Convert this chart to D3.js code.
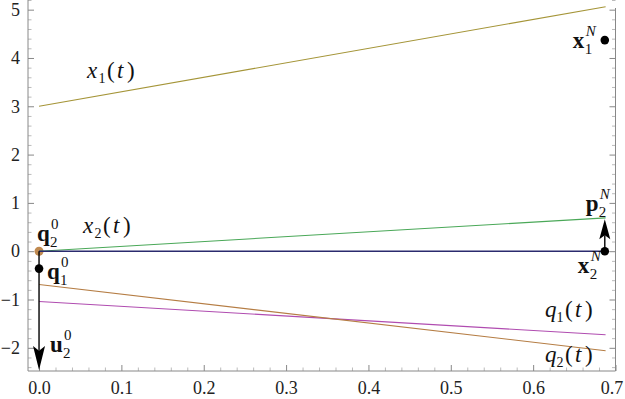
<!DOCTYPE html>
<html>
<head>
<meta charset="utf-8">
<script src="https://cdnjs.cloudflare.com/ajax/libs/d3/7.8.5/d3.min.js"></script>
<style>
  html, body { margin: 0; padding: 0; background: #fff; }
  svg text { font-family: 'Liberation Serif', 'Times New Roman', serif; }
</style>
</head>
<body>
<div id="app"></div>
<script>
const width = 625;
const height = 399;
const serif = "'Liberation Serif', 'Times New Roman', serif";

// time range of the trajectories
const tSpan = [0, 0.688];

// series values at the two ends of tSpan
const x1Vals = [3.0, 5.06];
const x2Vals = [0, 0.69];
const zeroVals = [0, 0];
const q1Vals = [-1.04, -1.73];
const q2Vals = [-0.69, -2.06];

// tick values
const xMajor = [0, 0.1, 0.2, 0.3, 0.4, 0.5, 0.6, 0.7];
const yMajor = [-2, -1, 0, 1, 2, 3, 4, 5];

// marked points [t, value]
const q20 = [0, 0];
const q10 = [0, -0.36];
const x1N = [0.687, 4.37];
const x2N = [0.687, 0];

// arrows [t, from, to]
const u20 = [0, 0, -2.46];
const p2N = [0.687, 0, 0.66];

const colors = {
  x1: '#a59538',
  x2: '#4aa858',
  zero: '#2b2b6e',
  q1: '#b04cb0',
  q2: '#b57d44'
};

const x = d3.scaleLinear().domain([-0.0134, 0.7]).range([28, 615.5]);
const y = d3.scaleLinear().domain([-2.48, 5.2]).range([371, 0]);

const svg = d3.select('#app').append('svg')
  .attr('width', width)
  .attr('height', height)
  .style('display', 'block');

// ---- axes ----
const range = (a, b, s) => d3.range(Math.round((b - a) / s) + 1).map(i => +(a + i * s).toFixed(4));
const xMinor = range(0, 0.7, 0.02).filter(v => !xMajor.some(m => Math.abs(m - v) < 1e-6));
const yMinor = range(-2.4, 5.2, 0.2).filter(v => !yMajor.some(m => Math.abs(m - v) < 1e-6));

const fmtY = d => d < 0 ? '\u2212' + Math.abs(d) : String(d);

const styleAxis = (g, col) => {
  g.select('.domain').remove();
  g.attr('font-family', serif).attr('font-size', 18);
  g.selectAll('.tick line').attr('stroke', col);
  g.selectAll('.tick text').attr('fill', '#222').style('font-family', serif);
};

svg.append('g')
  .attr('transform', `translate(0,${y.range()[0]})`)
  .call(d3.axisBottom(x).tickValues(xMinor).tickSize(-3.5).tickFormat(''))
  .call(g => styleAxis(g, '#bbb'));
svg.append('g')
  .attr('transform', `translate(0,${y.range()[0]})`)
  .call(d3.axisBottom(x).tickValues(xMajor).tickSize(-6).tickPadding(10).tickFormat(d3.format('.1f')))
  .call(g => styleAxis(g, '#888'))
  // last label sits at the window edge; nudge it so it stays visible
  .call(g => g.selectAll('.tick text').filter(d => d === 0.7).attr('x', -4));

svg.append('g')
  .attr('transform', `translate(${x.range()[0]},0)`)
  .call(d3.axisLeft(y).tickValues(yMinor).tickSize(-3.5).tickFormat(''))
  .call(g => styleAxis(g, '#bbb'));
svg.append('g')
  .attr('transform', `translate(${x.range()[0]},0)`)
  .call(d3.axisLeft(y).tickValues(yMajor).tickSize(-6).tickPadding(8).tickFormat(fmtY))
  .call(g => styleAxis(g, '#888'));

svg.append('g')
  .attr('transform', `translate(${x.range()[1]},0)`)
  .call(d3.axisRight(y).tickValues(yMinor).tickSize(-3.5).tickFormat(''))
  .call(g => styleAxis(g, '#bbb'));
svg.append('g')
  .attr('transform', `translate(${x.range()[1]},0)`)
  .call(d3.axisRight(y).tickValues(yMajor).tickSize(-6).tickFormat(''))
  .call(g => styleAxis(g, '#888'));

// frame lines
svg.append('line')
  .attr('x1', x.range()[0]).attr('x2', x.range()[1])
  .attr('y1', y.range()[0]).attr('y2', y.range()[0])
  .attr('stroke', '#888').attr('stroke-width', 1);
svg.append('line')
  .attr('x1', x.range()[0]).attr('x2', x.range()[0])
  .attr('y1', 0).attr('y2', y.range()[0])
  .attr('stroke', '#888').attr('stroke-width', 1);
svg.append('line')
  .attr('x1', x.range()[1]).attr('x2', x.range()[1])
  .attr('y1', 8).attr('y2', y.range()[0])
  .attr('stroke', '#888').attr('stroke-width', 1);

// ---- q2^0 marker below the lines ----
svg.append('circle')
  .attr('cx', x(q20[0])).attr('cy', y(q20[1])).attr('r', 4.5)
  .attr('fill', '#c08a50');

// ---- trajectories ----
const line = d3.line().x(d => x(d[0])).y(d => y(d[1]));
const series = [
  ['q1', q1Vals], ['q2', q2Vals], ['x1', x1Vals], ['x2', x2Vals], ['zero', zeroVals]
];
series.forEach(([key, vals]) => {
  svg.append('path')
    .datum(tSpan.map((t, i) => [t, vals[i]]))
    .attr('d', line)
    .attr('fill', 'none')
    .attr('stroke', colors[key])
    .attr('stroke-width', key === 'zero' ? 1.6 : 1.1);
});

// ---- arrows ----
const drawArrow = ([t, v0, v1], headLen, headW) => {
  const px = x(t), y0 = y(v0), y1 = y(v1);
  const dir = Math.sign(y1 - y0);
  svg.append('line')
    .attr('x1', px).attr('x2', px)
    .attr('y1', y0).attr('y2', y1 - dir * headLen * 0.8)
    .attr('stroke', '#000').attr('stroke-width', 1.4);
  svg.append('path')
    .attr('d', `M${px},${y1} L${px - headW / 2},${y1 - dir * headLen} L${px},${y1 - dir * headLen * 0.8} L${px + headW / 2},${y1 - dir * headLen} Z`)
    .attr('fill', '#000');
};
drawArrow(u20, 24, 12);
drawArrow(p2N, 20, 11);

// ---- black points ----
[q10, x1N, x2N].forEach(p => {
  svg.append('circle')
    .attr('cx', x(p[0])).attr('cy', y(p[1])).attr('r', 4.3)
    .attr('fill', '#000');
});

// ---- labels ----
const drawParts = (ox, oy, parts) => {
  const g = svg.append('g')
    .attr('transform', `translate(${ox},${oy})`);
  parts.forEach(p => {
    g.append('text')
      .attr('x', p.dx).attr('y', p.dy || 0)
      .style('font-family', serif)
      .style('font-size', (p.size || 23) + 'px')
      .style('font-style', p.italic ? 'italic' : 'normal')
      .style('font-weight', p.bold ? 'bold' : 'normal')
      .attr('fill', '#111')
      .text(p.t);
  });
};

const fnLabel = (name, idx) => [
  { t: name, dx: 0, italic: true },
  { t: idx, dx: 11.5, dy: 5, size: 14 },
  { t: '(', dx: 20 },
  { t: 't', dx: 30, italic: true },
  { t: ')', dx: 40 }
];
drawParts(87, 78, fnLabel('x', '1'));
drawParts(83, 233, fnLabel('x', '2'));
drawParts(545, 317, fnLabel('q', '1'));
drawParts(545, 362, fnLabel('q', '2'));

const boldLabel = (name, sub, sup, supItalic, w) => [
  { t: name, dx: 0, bold: true },
  { t: sub, dx: w, dy: 6, size: 15 },
  { t: sup, dx: w + 1, dy: -12, size: 15, italic: supItalic }
];
drawParts(x(q20[0]) - 2, 241, boldLabel('q', '2', '0', false, 13));
drawParts(x(q10[0]) + 8, 279, boldLabel('q', '1', '0', false, 13));
drawParts(x(u20[0]) + 11, 352, boldLabel('u', '2', '0', false, 13));
drawParts(x(x1N[0]) - 32, 48, boldLabel('x', '1', 'N', true, 12));
drawParts(x(x2N[0]) - 27, 273, boldLabel('x', '2', 'N', true, 12));
drawParts(x(p2N[0]) - 19, 211, boldLabel('p', '2', 'N', true, 13));
</script>
</body>
</html>
